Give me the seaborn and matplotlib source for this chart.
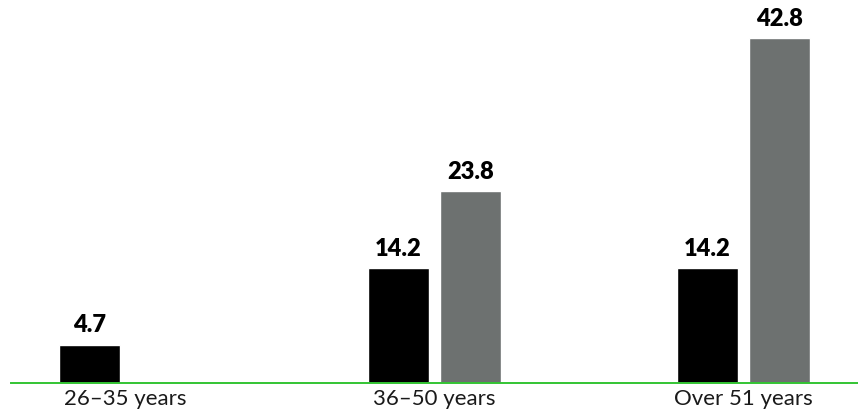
import numpy as np
import pandas as pd
import matplotlib
matplotlib.use("Agg")
import matplotlib.pyplot as plt
import seaborn as sns

categories = ["26\u201335 years", "36\u201350 years", "Over 51 years"]
series_names = ["Series A", "Series B"]
series_a = [4.7, 14.2, 14.2]
series_b = [np.nan, 23.8, 42.8]

rows = []
for c, a, b in zip(categories, series_a, series_b):
    rows.append({"cat": c, "series": series_names[0], "value": a})
    rows.append({"cat": c, "series": series_names[1], "value": b})
df = pd.DataFrame(rows).dropna()

sns.set_theme(style="white")
plt.rcParams["font.family"] = ["Lato", "DejaVu Sans"]

fig = plt.figure(figsize=(8.58, 4.19), dpi=100)
ax = fig.add_axes([11 / 858, 36.5 / 419, 847 / 858, 378 / 419])

sns.barplot(data=df, x="cat", y="value", hue="series", order=categories,
            hue_order=series_names, palette=["#000000", "#6d7170"],
            width=0.469, gap=0.159, dodge=True, saturation=1,
            errorbar=None, legend=False, ax=ax)

for cont in ax.containers:
    labels = ["" if (h is None or np.isnan(h)) else f"{h:.1f}" for h in cont.datavalues]
    ax.bar_label(cont, labels=labels, padding=6, fontsize=17, fontweight="heavy",
                 color="#000000")

ax.set_xlim(-0.371, 2.370)
ax.set_ylim(0, 47)
ax.set_xlabel("")
ax.set_ylabel("")
ax.set_yticks([])
for s in ["top", "right", "left"]:
    ax.spines[s].set_visible(False)
ax.spines["bottom"].set_color("#33c433")
ax.spines["bottom"].set_linewidth(1.4)
ax.spines["bottom"].set_zorder(5)
ax.tick_params(axis="x", length=0, pad=5, labelsize=16, labelcolor="#1a1a1a")

fig.savefig("out.png", dpi=100)
